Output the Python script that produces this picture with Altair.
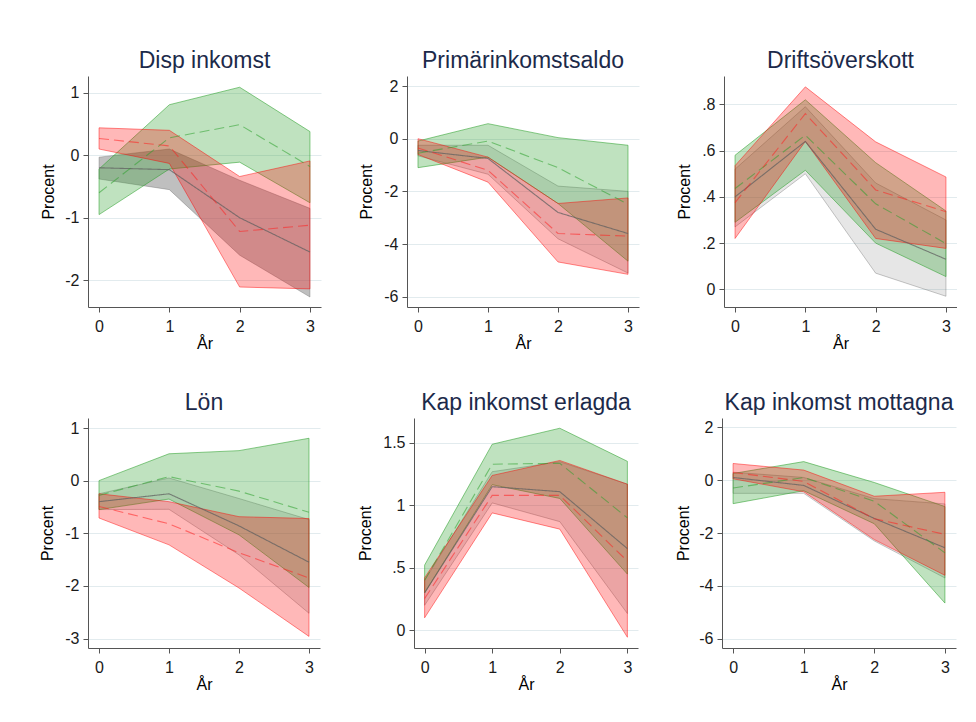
import altair as alt
import pandas as pd

YEARS = [0, 1, 2, 3]

TITLES = ["Disp inkomst", "Primärinkomstsaldo", "Driftsöverskott",
          "Lön", "Kap inkomst erlagda", "Kap inkomst mottagna"]

# each band: (lower, mid, upper) for years 0..3
disp_gray = ([-0.38, -0.55, -1.60, -2.27], [-0.20, -0.23, -1.00, -1.55], [-0.03, 0.10, -0.40, -0.85])
disp_green = ([-0.95, -0.22, -0.11, -0.76], [-0.60, 0.28, 0.49, -0.18], [-0.22, 0.81, 1.09, 0.38])
disp_red = ([0.10, -0.13, -2.11, -2.14], [0.27, 0.15, -1.22, -1.12], [0.44, 0.40, -0.34, -0.09])

prim_gray = ([-0.65, -1.35, -3.80, -5.10], [-0.45, -0.75, -2.80, -3.60], [-0.25, -0.25, -1.80, -2.00])
prim_green = ([-1.10, -0.70, -2.46, -4.65], [-0.55, -0.09, -1.10, -2.49], [-0.09, 0.57, 0.04, -0.25])
prim_red = ([-0.60, -1.65, -4.68, -5.15], [-0.35, -1.20, -3.60, -3.70], [0.00, -0.70, -2.46, -2.25])

drift_gray = ([0.27, 0.50, 0.07, -0.03], [0.40, 0.64, 0.26, 0.13], [0.52, 0.79, 0.46, 0.30])
drift_green = ([0.29, 0.515, 0.20, 0.055], [0.436, 0.667, 0.37, 0.198], [0.58, 0.82, 0.548, 0.339])
drift_red = ([0.22, 0.64, 0.22, 0.177], [0.375, 0.76, 0.43, 0.336], [0.535, 0.876, 0.638, 0.486])

lon_gray = ([-0.55, -0.545, -1.41, -2.52], [-0.40, -0.25, -0.86, -1.55], [-0.25, 0.05, -0.34, -0.74])
lon_green = ([-0.55, -0.35, -1.03, -2.03], [-0.28, 0.076, -0.20, -0.60], [0.00, 0.51, 0.57, 0.805])
lon_red = ([-0.71, -1.22, -2.04, -2.96], [-0.49, -0.82, -1.37, -1.85], [-0.25, -0.40, -0.685, -0.72])

erl_gray = ([0.20, 1.02, 0.87, 0.134], [0.30, 1.15, 1.11, 0.654], [0.40, 1.27, 1.35, 1.17])
erl_green = ([0.30, 1.166, 1.056, 0.45], [0.40, 1.33, 1.337, 0.90], [0.522, 1.49, 1.618, 1.353])
erl_red = ([0.10, 0.94, 0.81, -0.056], [0.254, 1.08, 1.08, 0.554], [0.42, 1.24, 1.36, 1.17])

mot_gray = ([-0.50, -0.50, -2.30, -3.70], [0.10, -0.20, -1.45, -2.56], [0.30, 0.10, -0.70, -0.90])
mot_green = ([-0.89, -0.40, -1.65, -4.65], [-0.30, 0.10, -0.80, -2.75], [0.25, 0.70, -0.09, -1.00])
mot_red = ([0.05, -0.44, -2.25, -3.60], [0.29, -0.05, -1.46, -2.05], [0.63, 0.38, -0.61, -0.46])

Y_TICKS = [
    [-2, -1, 0, 1],
    [-6, -4, -2, 0, 2],
    [0, 0.2, 0.4, 0.6, 0.8],
    [-3, -2, -1, 0, 1],
    [0, 0.5, 1, 1.5],
    [-6, -4, -2, 0, 2],
]
Y_DOMAINS = [
    [-2.43, 1.27],
    [-6.39, 2.38],
    [-0.0765, 0.923],
    [-3.18, 1.19],
    [-0.142, 1.70],
    [-6.35, 2.35],
]
X_DOMAIN = [-0.157, 3.157]

BANDS = [
    (disp_gray, disp_green, disp_red),
    (prim_gray, prim_green, prim_red),
    (drift_gray, drift_green, drift_red),
    (lon_gray, lon_green, lon_red),
    (erl_gray, erl_green, erl_red),
    (mot_gray, mot_green, mot_red),
]

# layout (plot-area sizes, y-title distance) and gray-band opacity per panel
WIDTHS = [233, 232, 233, 232, 224, 234]
HEIGHTS = [231, 231, 231, 230, 230, 230]
TITLE_DX = [40, 41, 40, 41, 49, 38.5]
GRAY_OPACITY = [0.5, 0.22, 0.2, 0.22, 0.22, 0.2]

FONT = "Liberation Sans"
STYLE = {
    "gray": dict(fill="#808080", stroke="#606060", so=0.35),
    "green": dict(fill="#2ca02c", fo=0.30, stroke="#2ca02c", so=0.55),
    "red": dict(fill="#ff0000", fo=0.28, stroke="#ff0000", so=0.45),
}
LINE = {
    "gray": dict(color="#606060", dash=[1, 0], op=0.75),
    "green": dict(color="#2ca02c", dash=[10, 5], op=0.55),
    "red": dict(color="#ff2020", dash=[10, 5], op=0.55),
}

LABEL_EXPR = ("datum.value > 0 && datum.value < 1 ? substring(toString(datum.value), 1) "
              ": toString(datum.value)")


def panel(i):
    rows = []
    for name, band in zip(["gray", "green", "red"], BANDS[i]):
        lo, mid, hi = band
        for k, x in enumerate(YEARS):
            rows.append({"s": name, "x": x, "lo": lo[k], "mid": mid[k], "hi": hi[k]})
    df = pd.DataFrame(rows)

    xax = alt.Axis(values=YEARS, format="d", title="År", grid=False,
                   tickSize=5, labelPadding=6, titleY=41, titleBaseline="alphabetic",
                   labelFontSize=16, titleFontSize=16, labelFont=FONT, titleFont=FONT,
                   titleFontWeight="normal", labelColor="#1a1a1a", titleColor="#000000",
                   domainColor="#555555", tickColor="#555555")
    yax = alt.Axis(values=Y_TICKS[i], labelExpr=LABEL_EXPR, title="Procent", grid=True,
                   gridColor="#e2ebee", gridWidth=1,
                   tickSize=5, labelPadding=4, titleX=-TITLE_DX[i], titleBaseline="middle",
                   labelFontSize=16, titleFontSize=16, labelFont=FONT, titleFont=FONT,
                   titleFontWeight="normal", labelColor="#1a1a1a", titleColor="#000000",
                   domainColor="#555555", tickColor="#555555")
    xs = alt.Scale(domain=X_DOMAIN, nice=False, zero=False)
    ys = alt.Scale(domain=Y_DOMAINS[i], nice=False, zero=False)

    base = alt.Chart(df)
    layers = []
    for name in ["gray", "green", "red"]:
        st = STYLE[name]
        fo = GRAY_OPACITY[i] if name == "gray" else st["fo"]
        layers.append(
            base.transform_filter(alt.datum.s == name)
            .mark_area(fill=st["fill"], fillOpacity=fo, stroke=st["stroke"],
                       strokeOpacity=st["so"], strokeWidth=1)
            .encode(x=alt.X("x:Q", scale=xs, axis=xax),
                    y=alt.Y("lo:Q", scale=ys, axis=yax),
                    y2="hi:Q")
        )
    for name in ["gray", "green", "red"]:
        ln = LINE[name]
        layers.append(
            base.transform_filter(alt.datum.s == name)
            .mark_line(color=ln["color"], strokeDash=ln["dash"], strokeWidth=1.1,
                       opacity=ln["op"])
            .encode(x=alt.X("x:Q", scale=xs, axis=xax),
                    y=alt.Y("mid:Q", scale=ys, axis=yax))
        )
    return alt.layer(*layers).properties(
        width=WIDTHS[i], height=HEIGHTS[i],
        title=alt.TitleParams(TITLES[i], fontSize=23, font=FONT, fontWeight="normal",
                              color="#1c2a4a", baseline="alphabetic", offset=-15,
                              frame="group", anchor="middle"),
    )


row1 = alt.hconcat(panel(0), panel(1), panel(2), spacing=37)
row2 = alt.hconcat(panel(3), panel(4), panel(5), spacing=37)
chart = alt.vconcat(row1, row2, spacing=41).properties(
    padding={"left": 31, "top": 42, "right": 0, "bottom": 0},
    background="white",
).configure_view(stroke=None)

chart.save("out.html", embed_options={"renderer": "svg", "actions": False})
